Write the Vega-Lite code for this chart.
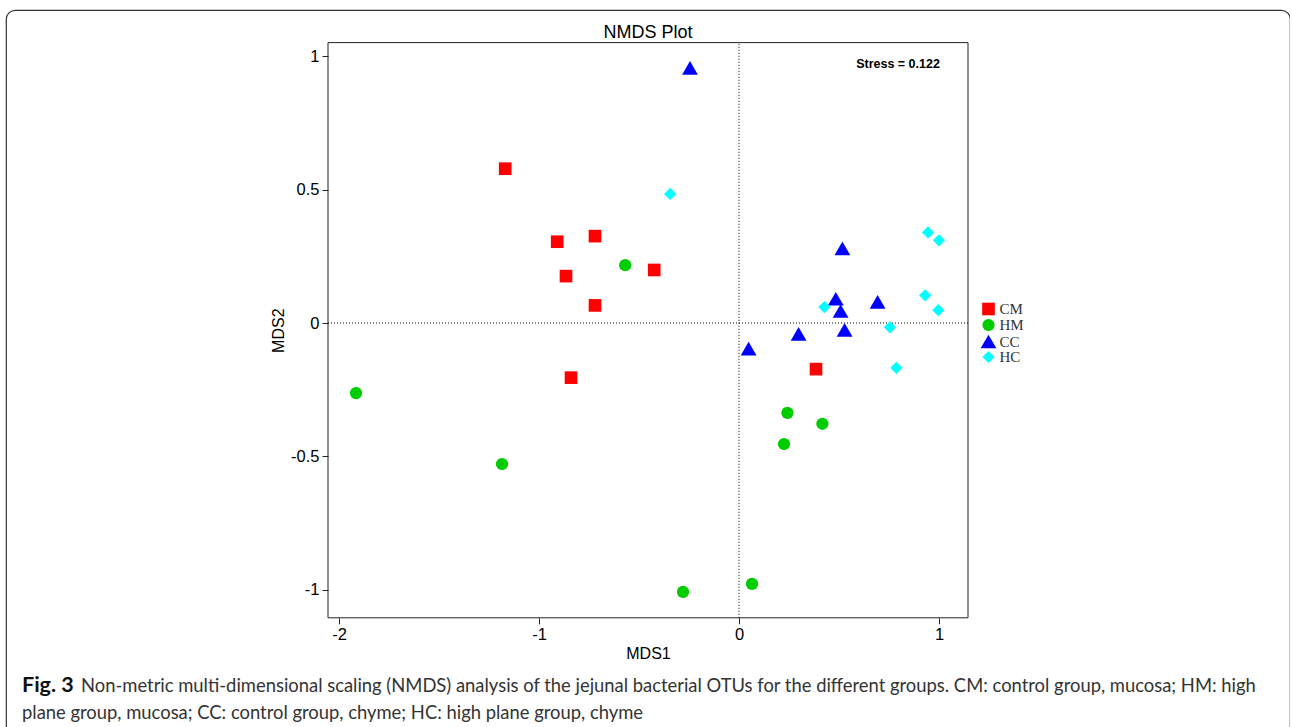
{
  "$schema": "https://vega.github.io/schema/vega-lite/v6.json",
  "background": "white",
  "autosize": {"type": "none"},
  "padding": {"left": 6, "top": 10, "right": 0, "bottom": 0},
  "width": 1284,
  "height": 725,
  "view": {"stroke": "#333333", "strokeWidth": 1.2, "cornerRadius": 9},
  "title": {"text": "NMDS Plot", "font": "Liberation Sans", "fontSize": 18, "fontWeight": "normal", "color": "#000000", "anchor": "middle", "frame": "group", "offset": -28, "baseline": "bottom", "dy": 22},
  "resolve": {"scale": {"x": "independent", "y": "independent"}, "axis": {"x": "independent", "y": "independent"}},
  "layer": [
    {
      "layer": [
        {
          "data": {"values": [{"x0": -2.055, "x1": 1.145, "y0": -1.106, "y1": 1.052}]},
          "mark": {"type": "rect", "fill": null, "fillOpacity": 0, "stroke": "#222222", "strokeWidth": 1},
          "encoding": {
            "x": {"field": "x0", "type": "quantitative"},
            "x2": {"field": "x1"},
            "y": {"field": "y0", "type": "quantitative"},
            "y2": {"field": "y1"}
          }
        },
        {
          "data": {"values": [{"ref": 0, "lo": -1.106, "hi": 1.052}]},
          "mark": {"type": "rule", "strokeDash": [1, 2], "color": "#000000", "strokeWidth": 1},
          "encoding": {
            "x": {"field": "ref", "type": "quantitative"},
            "y": {"field": "lo", "type": "quantitative"},
            "y2": {"field": "hi"}
          }
        },
        {
          "data": {"values": [{"ref": 0, "lo": -2.055, "hi": 1.145}]},
          "mark": {"type": "rule", "strokeDash": [1, 2], "color": "#000000", "strokeWidth": 1},
          "encoding": {
            "y": {"field": "ref", "type": "quantitative"},
            "x": {"field": "lo", "type": "quantitative"},
            "x2": {"field": "hi"}
          }
        },
        {
          "data": {"values": [
            {"group": "CM", "MDS1": -1.169, "MDS2": 0.579},
            {"group": "CM", "MDS1": -0.909, "MDS2": 0.305},
            {"group": "CM", "MDS1": -0.72, "MDS2": 0.326},
            {"group": "CM", "MDS1": -0.865, "MDS2": 0.176},
            {"group": "CM", "MDS1": -0.424, "MDS2": 0.199},
            {"group": "CM", "MDS1": -0.72, "MDS2": 0.066},
            {"group": "CM", "MDS1": -0.84, "MDS2": -0.205},
            {"group": "CM", "MDS1": 0.385, "MDS2": -0.173},
            {"group": "HM", "MDS1": -1.915, "MDS2": -0.263},
            {"group": "HM", "MDS1": -1.185, "MDS2": -0.529},
            {"group": "HM", "MDS1": -0.569, "MDS2": 0.217},
            {"group": "HM", "MDS1": -0.28, "MDS2": -1.009},
            {"group": "HM", "MDS1": 0.065, "MDS2": -0.979},
            {"group": "HM", "MDS1": 0.242, "MDS2": -0.337},
            {"group": "HM", "MDS1": 0.225, "MDS2": -0.454},
            {"group": "HM", "MDS1": 0.417, "MDS2": -0.378},
            {"group": "CC", "MDS1": -0.245, "MDS2": 0.957},
            {"group": "CC", "MDS1": 0.517, "MDS2": 0.28},
            {"group": "CC", "MDS1": 0.484, "MDS2": 0.091},
            {"group": "CC", "MDS1": 0.508, "MDS2": 0.045},
            {"group": "CC", "MDS1": 0.693, "MDS2": 0.079},
            {"group": "CC", "MDS1": 0.528, "MDS2": -0.026},
            {"group": "CC", "MDS1": 0.298, "MDS2": -0.041},
            {"group": "CC", "MDS1": 0.048, "MDS2": -0.096},
            {"group": "HC", "MDS1": -0.344, "MDS2": 0.484},
            {"group": "HC", "MDS1": 0.945, "MDS2": 0.34},
            {"group": "HC", "MDS1": 1.0, "MDS2": 0.31},
            {"group": "HC", "MDS1": 0.931, "MDS2": 0.104},
            {"group": "HC", "MDS1": 0.997, "MDS2": 0.048},
            {"group": "HC", "MDS1": 0.427, "MDS2": 0.06},
            {"group": "HC", "MDS1": 0.755, "MDS2": -0.016},
            {"group": "HC", "MDS1": 0.787, "MDS2": -0.168}
          ]},
          "mark": {"type": "point", "filled": true, "opacity": 1, "strokeWidth": 0},
          "encoding": {
            "x": {
              "field": "MDS1", "type": "quantitative", "title": "MDS1",
              "scale": {"domain": [-2.055, 1.145], "range": [322, 962], "nice": false, "zero": false},
              "axis": {"orient": "bottom", "offset": -117.2, "values": [-2, -1, 0, 1], "labelExpr": "'' + datum.value", "titlePadding": 2}
            },
            "y": {
              "field": "MDS2", "type": "quantitative", "title": "MDS2",
              "scale": {"domain": [-1.106, 1.052], "range": [607.8, 32.6], "nice": false, "zero": false},
              "axis": {"orient": "left", "offset": -322, "values": [-1, -0.5, 0, 0.5, 1], "labelExpr": "'' + datum.value", "titlePadding": 4}
            },
            "color": {
              "field": "group", "type": "nominal",
              "scale": {"domain": ["CM", "HM", "CC", "HC"], "range": ["#ff0000", "#00cd00", "#0000ff", "#00ffff"]},
              "legend": {"title": null, "orient": "none", "legendX": 974.5, "legendY": 291.5}
            },
            "shape": {
              "field": "group", "type": "nominal",
              "scale": {"domain": ["CM", "HM", "CC", "HC"], "range": ["square", "circle", "triangle-up", "diamond"]}
            },
            "size": {
              "field": "group", "type": "nominal",
              "scale": {"type": "ordinal", "domain": ["CM", "HM", "CC", "HC"], "range": [160, 150, 250, 150]}
            }
          }
        },
        {
          "data": {"values": [{"label": "Stress = 0.122", "px": 0.795, "py": 0.972}]},
          "mark": {"type": "text", "font": "Liberation Sans", "fontSize": 12.5, "fontWeight": "bold", "fill": "#000000", "align": "center", "baseline": "middle"},
          "encoding": {
            "x": {"field": "px", "type": "quantitative"},
            "y": {"field": "py", "type": "quantitative"},
            "text": {"field": "label"}
          }
        }
      ]
    },
    {
      "data": {"values": [
        {"line": 1, "part": "fig", "text": "Fig. 3"},
        {"line": 1, "part": "rest", "text": "Non-metric multi-dimensional scaling (NMDS) analysis of the jejunal bacterial OTUs for the different groups. CM: control group, mucosa; HM: high"},
        {"line": 2, "part": "rest2", "text": "plane group, mucosa; CC: control group, chyme; HC: high plane group, chyme"}
      ]},
      "encoding": {
        "x": {"datum": 0, "type": "quantitative", "scale": {"domain": [0, 1]}, "axis": null},
        "y": {"field": "line", "type": "quantitative", "scale": {"domain": [1, 2], "range": [676, 703]}, "axis": null},
        "text": {"field": "text"}
      },
      "layer": [
        {
          "transform": [{"filter": "datum.part === 'fig'"}],
          "mark": {"type": "text", "font": "Lato", "fontSize": 21.5, "fontWeight": "bold", "color": "#111111", "align": "left", "baseline": "middle", "dx": 16}
        },
        {
          "transform": [{"filter": "datum.part === 'rest'"}],
          "mark": {"type": "text", "font": "Lato", "fontSize": 18.4, "color": "#333333", "align": "left", "baseline": "middle", "dx": 75}
        },
        {
          "transform": [{"filter": "datum.part === 'rest2'"}],
          "mark": {"type": "text", "font": "Lato", "fontSize": 18.4, "color": "#333333", "align": "left", "baseline": "middle", "dx": 16}
        }
      ]
    }
  ],
  "config": {
    "axis": {
      "grid": false,
      "domain": false,
      "ticks": true,
      "tickColor": "#222222",
      "tickSize": 6,
      "labelFont": "Liberation Sans",
      "labelFontSize": 16.5,
      "labelColor": "#000000",
      "labelPadding": 3,
      "titleFont": "Liberation Sans",
      "titleFontSize": 16,
      "titleFontWeight": "normal",
      "titleColor": "#000000"
    },
    "legend": {
      "labelFont": "Liberation Serif",
      "labelFontSize": 15,
      "labelColor": "#333333",
      "symbolStrokeWidth": 0,
      "rowPadding": 0,
      "padding": 0,
      "labelOffset": 3,
      "symbolOpacity": 1
    }
  }
}
